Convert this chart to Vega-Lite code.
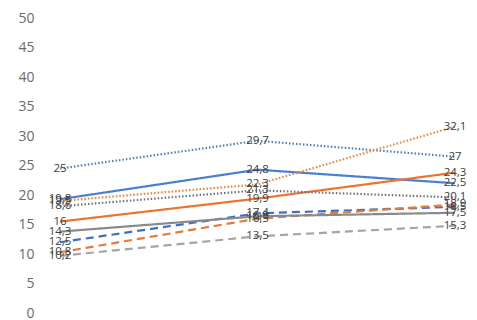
{
  "$schema": "https://vega.github.io/schema/vega-lite/v6.json",
  "width": 425,
  "height": 295,
  "autosize": "none",
  "padding": {"left": 45, "top": 21, "right": 7, "bottom": 4},
  "background": "white",
  "config": {
    "view": {"stroke": null},
    "font": "Open Sans",
    "locale": {"number": {"decimal": ",", "thousands": ".", "grouping": [3], "currency": ["", " €"]}}
  },
  "data": {
    "values": [
      {"serie": "A", "periode": "P1", "waarde": 19.8},
      {"serie": "A", "periode": "P2", "waarde": 24.8},
      {"serie": "A", "periode": "P3", "waarde": 22.5},
      {"serie": "B", "periode": "P1", "waarde": 25},
      {"serie": "B", "periode": "P2", "waarde": 29.7},
      {"serie": "B", "periode": "P3", "waarde": 27},
      {"serie": "C", "periode": "P1", "waarde": 12.5},
      {"serie": "C", "periode": "P2", "waarde": 17.4},
      {"serie": "C", "periode": "P3", "waarde": 18.5},
      {"serie": "D", "periode": "P1", "waarde": 16},
      {"serie": "D", "periode": "P2", "waarde": 19.9},
      {"serie": "D", "periode": "P3", "waarde": 24.3},
      {"serie": "E", "periode": "P1", "waarde": 19.5},
      {"serie": "E", "periode": "P2", "waarde": 22.3},
      {"serie": "E", "periode": "P3", "waarde": 32.1},
      {"serie": "F", "periode": "P1", "waarde": 10.8},
      {"serie": "F", "periode": "P2", "waarde": 16.5},
      {"serie": "F", "periode": "P3", "waarde": 18.9},
      {"serie": "G", "periode": "P1", "waarde": 14.3},
      {"serie": "G", "periode": "P2", "waarde": 16.9},
      {"serie": "G", "periode": "P3", "waarde": 17.5},
      {"serie": "H", "periode": "P1", "waarde": 18.6},
      {"serie": "H", "periode": "P2", "waarde": 21.3},
      {"serie": "H", "periode": "P3", "waarde": 20.1},
      {"serie": "I", "periode": "P1", "waarde": 10.2},
      {"serie": "I", "periode": "P2", "waarde": 13.5},
      {"serie": "I", "periode": "P3", "waarde": 15.3}
    ]
  },
  "encoding": {
    "x": {
      "field": "periode",
      "type": "ordinal",
      "scale": {"type": "point", "padding": 0.076},
      "axis": null
    },
    "y": {
      "field": "waarde",
      "type": "quantitative",
      "scale": {"domain": [0, 50], "nice": false},
      "axis": {
        "values": [0, 5, 10, 15, 20, 25, 30, 35, 40, 45, 50],
        "title": null,
        "grid": false,
        "domain": false,
        "ticks": false,
        "tickSize": 0,
        "labelPadding": 11,
        "labelOffset": -3,
        "labelFontSize": 14,
        "labelColor": "#6b6b6b",
        "labelFont": "Open Sans"
      }
    }
  },
  "layer": [
    {
      "mark": {"type": "line", "strokeWidth": 2.2},
      "encoding": {
        "color": {
          "field": "serie",
          "type": "nominal",
          "scale": {
            "domain": ["A", "B", "C", "D", "E", "F", "G", "H", "I"],
            "range": ["#4a7fcf", "#4a7fcf", "#3f6fc0", "#ed7430", "#f0843c", "#ea7a35", "#8a8a8a", "#6f7280", "#a5a5a5"]
          },
          "legend": null
        },
        "strokeDash": {
          "field": "serie",
          "type": "nominal",
          "scale": {
            "domain": ["A", "B", "C", "D", "E", "F", "G", "H", "I"],
            "range": [[1, 0], [1.5, 2], [8, 5], [1, 0], [1.5, 2], [8, 5], [1, 0], [1.5, 2], [8, 5]]
          },
          "legend": null
        }
      }
    },
    {
      "mark": {"type": "text", "fontSize": 11.5, "color": "#404040", "font": "Open Sans"},
      "encoding": {
        "text": {"field": "waarde", "type": "quantitative", "format": ".1~f"}
      }
    }
  ]
}
